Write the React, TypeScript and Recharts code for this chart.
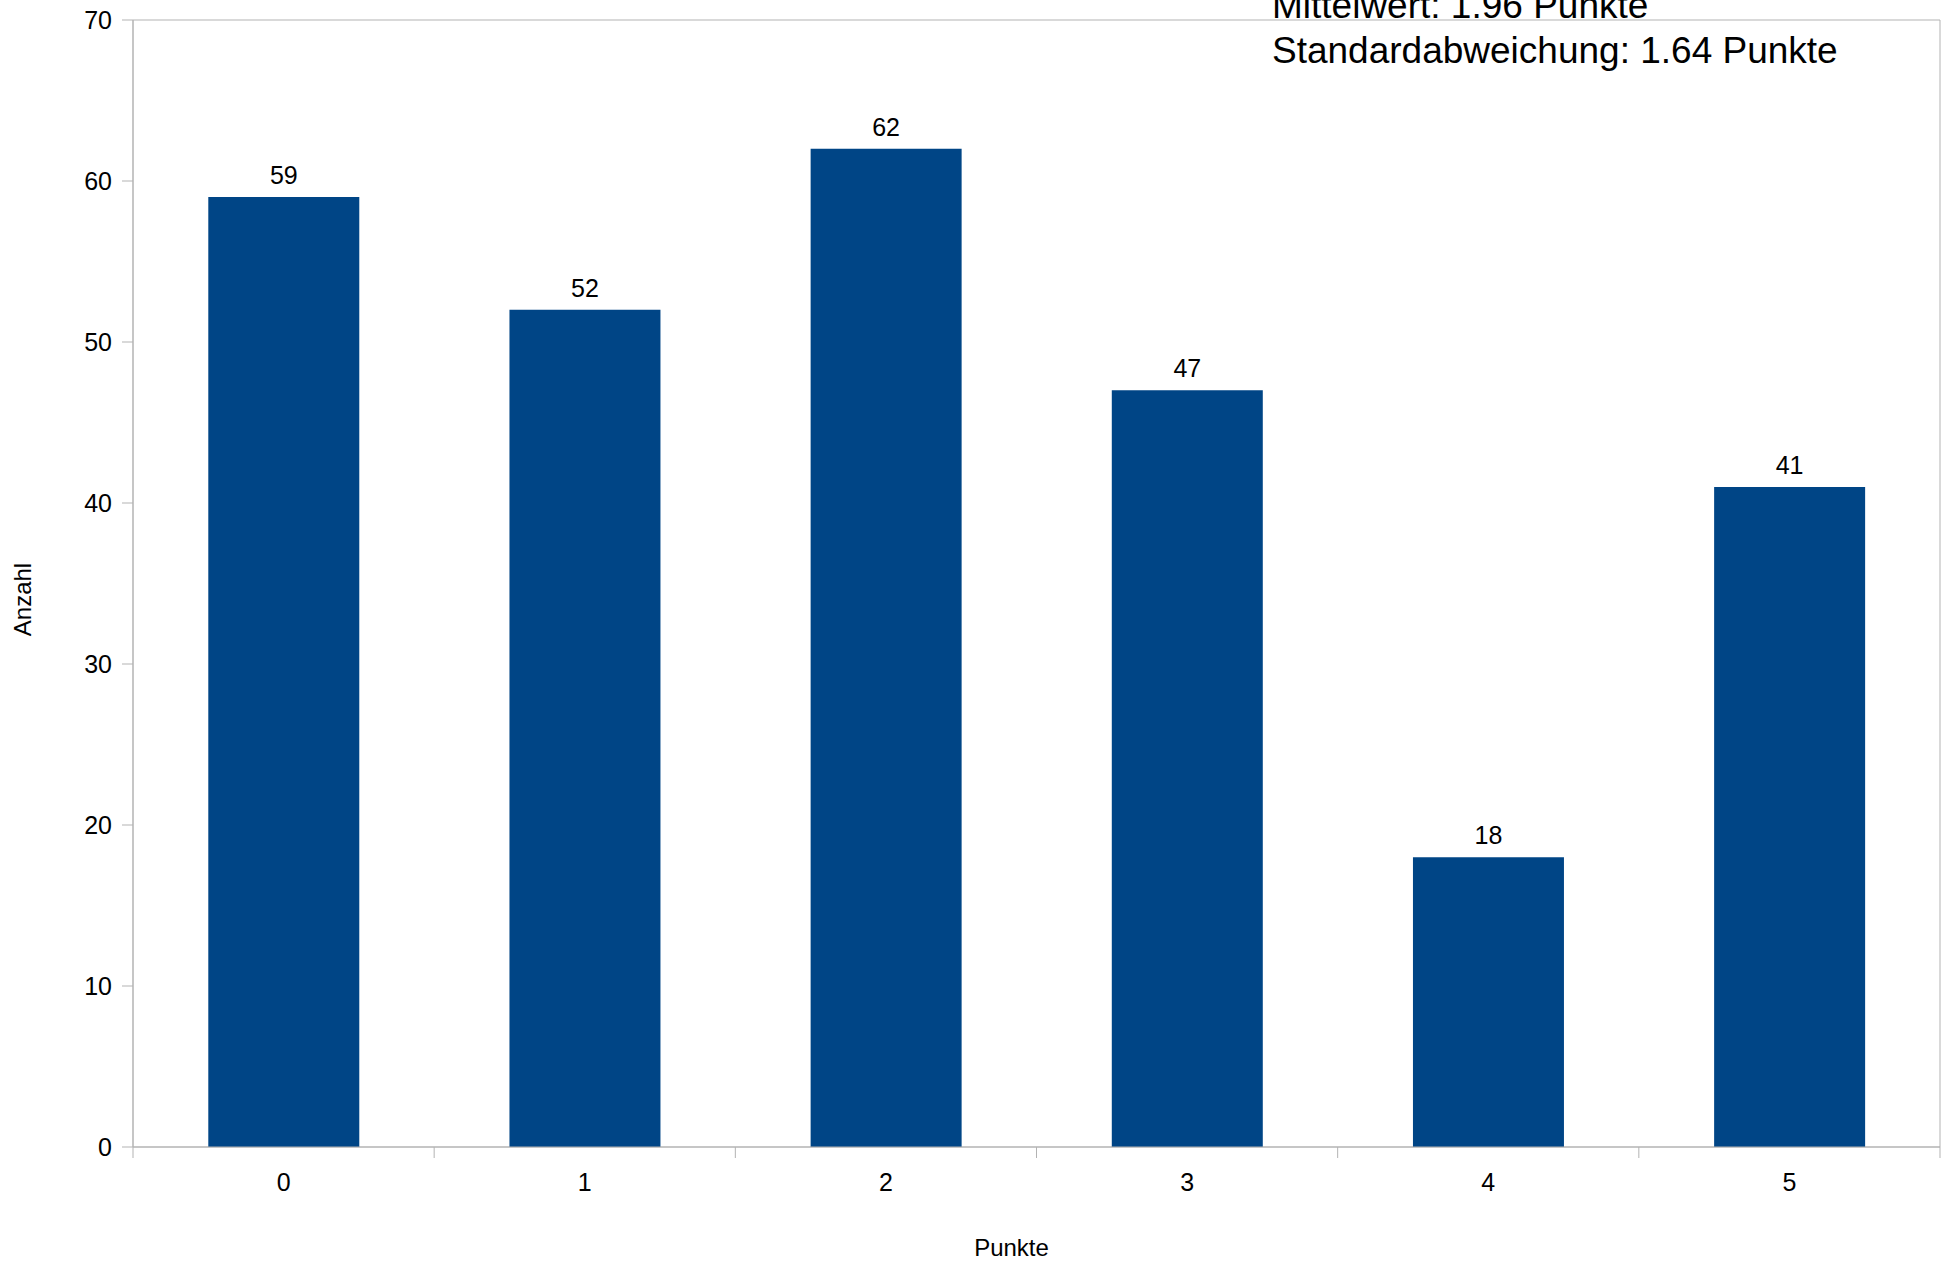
import React from "react";
import { BarChart, Bar, XAxis, YAxis, LabelList, ReferenceArea } from "recharts";

const punkte = ["0", "1", "2", "3", "4", "5"];
const anzahl = [59, 52, 62, 47, 18, 41];
const yTicks = [0, 10, 20, 30, 40, 50, 60, 70];
const statsLines = ["Mittelwert: 1.96 Punkte", "Standardabweichung: 1.64 Punkte"];

const W = 1949;
const H = 1261;
const FONT = "'Liberation Sans', Arial, sans-serif";
const AXIS = "#b3b3b3";
const BAR = "#004586";
const TICK_SIZE = 11;
const TICK_MARGIN = 15;
const NUM_FONT = 25;

const data = punkte.map((p, i) => ({ punkte: p, anzahl: anzahl[i] }));

// category ticks: label in the middle, tick mark on the band boundaries
function XTick(props: any) {
  const { x, y, payload, index, visibleTicksCount } = props;
  const half = payload?.offset ?? 0;
  const axisY = y - TICK_MARGIN - TICK_SIZE;
  const last = index === (visibleTicksCount ?? punkte.length) - 1;
  return (
    <g>
      <line x1={x - half} x2={x - half} y1={axisY} y2={axisY + TICK_SIZE} stroke={AXIS} />
      {last && <line x1={x + half} x2={x + half} y1={axisY} y2={axisY + TICK_SIZE} stroke={AXIS} />}
      <text x={x} y={y} dy="0.71em" textAnchor="middle" fontSize={NUM_FONT} fill="#000" fontFamily={FONT}>
        {payload.value}
      </text>
    </g>
  );
}

export default function App() {
  return (
    <div style={{ position: "absolute", left: 0, top: 0, width: W, height: H, background: "#fff" }}>
      <BarChart
        width={W}
        height={H}
        data={data}
        margin={{ top: 20, right: 9, bottom: 0, left: 0 }}
        barCategoryGap="25%"
      >
        <ReferenceArea y1={0} y2={70} fill="none" stroke={AXIS} strokeWidth={1} ifOverflow="visible" />
        <XAxis
          dataKey="punkte"
          height={114}
          stroke={AXIS}
          tickLine={false}
          tickSize={TICK_SIZE}
          tickMargin={TICK_MARGIN}
          tick={<XTick />}
          interval={0}
          label={{
            content: (p: any) => {
              const vb = p.viewBox;
              return (
                <text x={vb.x + vb.width / 2 - 25} y={vb.y + 109} textAnchor="middle" fontSize={24} fill="#000" fontFamily={FONT}>
                  Punkte
                </text>
              );
            },
          }}
        />
        <YAxis
          width={133}
          domain={[0, 70]}
          ticks={yTicks}
          interval={0}
          stroke={AXIS}
          tickSize={TICK_SIZE}
          tickMargin={10}
          tick={{ fontSize: NUM_FONT, fill: "#000", fontFamily: FONT }}
          label={{
            content: (p: any) => {
              const vb = p.viewBox;
              const cx = 23;
              const cy = vb.y + vb.height / 2 + 16;
              return (
                <text x={cx} y={cy} transform={`rotate(-90 ${cx} ${cy})`} dy="0.35em" textAnchor="middle" fontSize={24} fill="#000" fontFamily={FONT}>
                  Anzahl
                </text>
              );
            },
          }}
        />
        <Bar dataKey="anzahl" fill={BAR} isAnimationActive={false}>
          <LabelList dataKey="anzahl" position="top" offset={13} fontSize={NUM_FONT} fill="#000" fontFamily={FONT} />
        </Bar>
      </BarChart>
      <div
        style={{
          position: "absolute",
          left: 1272,
          top: -17,
          fontFamily: FONT,
          fontSize: 37,
          lineHeight: "45px",
          color: "#000",
          whiteSpace: "nowrap",
        }}
      >
        {statsLines.map((l) => (
          <div key={l}>{l}</div>
        ))}
      </div>
    </div>
  );
}
